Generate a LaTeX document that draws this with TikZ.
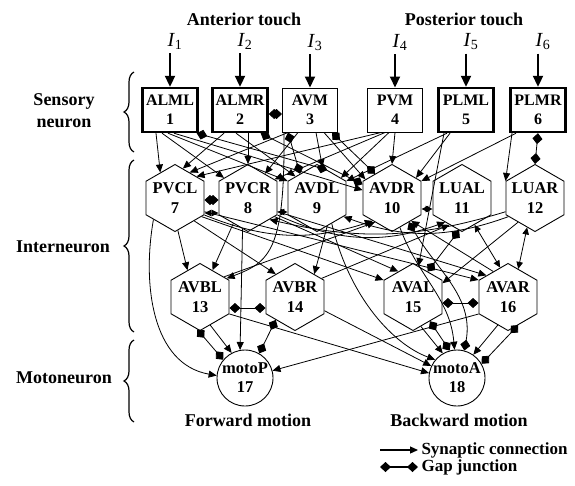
\documentclass[tikz,border=0pt]{standalone}
\usepackage{fontspec}
\setmainfont{Liberation Serif}
\usetikzlibrary{shapes.geometric,arrows.meta,calc,decorations.pathreplacing}

\tikzset{
  sensbox/.style={draw, rectangle, minimum width=55pt, minimum height=44pt, inner sep=1pt, align=center, line width=1pt, font=\bfseries\fontsize{16}{19}\selectfont},
  strong/.style={line width=2.4pt},
  hexnode/.style={draw, regular polygon, regular polygon sides=6, shape border rotate=30, minimum size=67pt, inner sep=0pt, line width=0.9pt, label={[align=center, font=\bfseries\fontsize{16.5}{20}\selectfont]center:#1}},
  motonode/.style={draw, circle, minimum size=56pt, inner sep=0pt, line width=0.9pt, label={[align=center, font=\bfseries\fontsize{16.5}{19}\selectfont]center:#1}},
  syn/.style={-{Triangle[length=8pt,width=7pt]}, line width=0.8pt},
  synboth/.style={{Triangle[length=7pt,width=6.5pt]}-{Triangle[length=7pt,width=6.5pt]}, line width=0.8pt},
  gap/.style={{Diamond[length=11pt,width=10pt]}-{Diamond[length=11pt,width=10pt]}, line width=0.8pt},
  inarrow/.style={-{Triangle[length=11pt,width=10pt]}, line width=2pt},
  inlbl/.style={font=\fontsize{20}{22}\selectfont},
  grouplbl/.style={font=\bfseries\fontsize{18}{22}\selectfont, align=center},
  legtext/.style={font=\bfseries\fontsize{17}{19}\selectfont, anchor=west},
  sidebrace/.style={decorate, decoration={brace, amplitude=10pt}, line width=1.2pt},
}

\begin{document}
\begin{tikzpicture}[x=1pt, y=-1pt]
    \useasboundingbox (0,0) rectangle (575,485);

    % Group labels
    \node[grouplbl] (ant) at (244,19) {Anterior touch};
    \node[grouplbl] (post) at (464,19) {Posterior touch};
    \node[grouplbl] (sens) at (64,111) {Sensory\\neuron};
    \node[grouplbl] (inter) at (63,247) {Interneuron};
    \node[grouplbl] (moto) at (64,378) {Motoneuron};
    \node[grouplbl] (fwd) at (248,420) {Forward motion};
    \node[grouplbl] (bwd) at (459,420) {Backward motion};

    % Braces
    \draw[sidebrace] (134,152) -- (134,72);
    \draw[sidebrace] (134,332) -- (134,160);
    \draw[sidebrace] (134,422) -- (134,340);

    % Sensory neurons
    \node[sensbox, strong] (alml) at (170,110) {ALML\\1};
    \node[sensbox, strong] (almr) at (240,110) {ALMR\\2};
    \node[sensbox] (avm) at (310,110) {AVM\\3};
    \node[sensbox] (pvm) at (395,110) {PVM\\4};
    \node[sensbox, strong] (plml) at (466,110) {PLML\\5};
    \node[sensbox, strong] (plmr) at (538,110) {PLMR\\6};

    % Touch inputs
    \foreach \s/\i in {alml/1, almr/2, avm/3, pvm/4, plml/5, plmr/6} {
        \node[inlbl] (in\i) at ([xshift=5pt,yshift=45pt]\s.north) {\textit{I}\textsubscript{\i}};
        \draw[inarrow] (\s.north |- in\i.south) -- (\s.north);
    }

    % Interneurons
    \node[hexnode={PVCL\\7}] (pvcl) at (175,198) {};
    \node[hexnode={PVCR\\8}] (pvcr) at (248,198) {};
    \node[hexnode={AVDL\\9}] (avdl) at (317,198) {};
    \node[hexnode={AVDR\\10}] (avdr) at (392,198) {};
    \node[hexnode={LUAL\\11}] (lual) at (462,198) {};
    \node[hexnode={LUAR\\12}] (luar) at (535,198) {};
    \node[hexnode={AVBL\\13}] (avbl) at (200,297) {};
    \node[hexnode={AVBR\\14}] (avbr) at (295,297) {};
    \node[hexnode={AVAL\\15}] (aval) at (413,297) {};
    \node[hexnode={AVAR\\16}] (avar) at (508,297) {};

    % Motoneurons
    \node[motonode={motoP\\17}] (motop) at (245,378) {};
    \node[motonode={motoA\\18}] (motoa) at (457,378) {};

    % Sensory -> interneuron
    \draw[syn] ([xshift=-14pt]alml.south) -- (pvcl.120);
    \draw[syn] ([xshift=-8pt]alml.south) -- (pvcr.140);
    \draw[syn] ([xshift=-2pt]alml.south) -- (avdl.150);
    \draw[syn] ([xshift=4pt]alml.south) -- (avdr.165);
    \draw[syn] ([xshift=8pt]almr.south) -- (pvcr.north);
    \draw[syn] ([xshift=-16pt]almr.south) -- (pvcl.75);
    \draw[syn] ([xshift=-4pt]almr.south) -- (avdl.135);
    \draw[syn] ([xshift=-22pt]avm.south) -- (pvcl.60);
    \draw[syn] ([xshift=-12pt]avm.south) -- (pvcr.55);
    \draw[syn] ([xshift=6pt]avm.south) -- (avdl.80);
    \draw[syn] ([xshift=14pt]avm.south) -- (avdr.145);
    \draw[syn] ([xshift=-26pt]avm.south) .. controls (285,250) and (270,262) .. (avbl.35);
    \draw[syn] (pvm.south) -- (avdr.north);
    \draw[syn] ([xshift=-6pt]pvm.south) -- (avdl.40);
    \draw[syn] ([xshift=-10pt]pvm.south) -- (pvcr.35);
    \draw[syn] ([xshift=-14pt]pvm.south) -- (pvcl.45);
    \draw[syn] ([xshift=-16pt]plml.south) -- (avdr.40);
    \draw[syn] ([xshift=-22pt]plml.south) -- (aval.80);
    \draw[syn] ([xshift=-19pt]plml.south) -- (avdl.30);
    \draw[syn] ([xshift=-22pt]plmr.south) -- (avdr.30);
    \draw[syn] ([xshift=-26pt]plmr.south) -- (luar.150);
    \draw[gap] (plmr.south) -- (luar.north);
    \draw[gap] ([yshift=-4pt]almr.east) -- ([yshift=-4pt]avm.west);
    \draw[gap] ([xshift=-2pt]alml.south east) -- (avdl.70);
    \draw[gap] ([xshift=-8pt]almr.south east) -- (avdr.155);
    \draw[gap] ([xshift=6pt]avm.south west) -- (avdl.125);
    \draw[gap] ([xshift=-6pt]avm.south east) -- (avdr.125);

    % Interneuron <-> interneuron
    \draw[gap] ([yshift=-2pt]pvcl.east) -- ([yshift=-2pt]pvcr.west);
    \draw[synboth] ([yshift=-15pt]pvcl.east) -- ([yshift=-15pt]pvcr.west);
    \draw[synboth] ([yshift=-14pt]pvcr.east) -- ([yshift=-14pt]avdl.west);
    \draw[synboth] ([yshift=-11pt]avdr.east) -- ([yshift=-11pt]lual.west);
    \draw[gap] ([yshift=-11pt]avbl.east) -- ([yshift=-11pt]avbr.west);
    \draw[gap] ([yshift=-6pt]aval.east) -- ([yshift=-6pt]avar.west);
    \draw[syn] (pvcl.-85) -- (avbl.115);
    \draw[syn] (pvcr.-120) -- (avbl.65);
    \draw[syn] (pvcl.-50) -- (avbr.130);
    \draw[syn] (avdl.-70) -- (avbr.50);
    \draw[syn] (pvcl.-35) -- (aval.150);
    \draw[syn] (pvcl.-25) -- (avar.150);
    \draw[syn] (pvcr.-35) -- (aval.120);
    \draw[syn] (pvcr.-25) -- (avar.135);
    \draw[syn] (pvcl.-30) to[bend right=20] (avdr.-130);
    \draw[syn] (pvcr.-30) to[bend right=22] (lual.-125);
    \draw[syn] (luar.-145) to[bend left=20] (avdl.-35);
    \draw[syn] (luar.-155) to[bend left=15] (pvcr.-45);
    \draw[syn] (avbl.40) -- (avdr.-125);
    \draw[syn] (avbr.35) -- (lual.-115);
    \draw[syn] (avar.120) -- (avdr.-50);
    \draw[synboth] (lual.-65) -- (avar.105);
    \draw[synboth] (luar.-105) -- (avar.70);
    \draw[syn] (luar.-125) -- (aval.25);
    \draw[gap] (lual.-95) -- (aval.60);

    % Interneuron -> motoneuron
    \draw[syn] (pvcr.-100) -- (motop.100);
    \draw[syn] (pvcl.-135) to[out=-100,in=170] (motop.175);
    \draw[gap] (avbl.-95) -- (motop.140);
    \draw[syn] (avbl.-70) -- (motop.118);
    \draw[gap] (avbr.-130) -- (motop.60);
    \draw[syn] (avar.-150) -- (motop.15);
    \draw[syn] (avbl.-30) -- (motoa.170);
    \draw[syn] (avbr.-25) -- (motoa.155);
    \draw[syn] (avdl.-60) .. controls (350,300) and (395,345) .. (motoa.140);
    \draw[gap] (avdr.-55) to[out=-60,in=80] (motoa.75);
    \draw[syn] (avdr.-75) to[out=-70,in=95] (motoa.95);
    \draw[gap] (aval.-55) -- (motoa.105);
    \draw[syn] (aval.-75) -- (motoa.120);
    \draw[gap] (avar.-70) -- (motoa.30);
    \draw[syn] (avar.-110) -- (motoa.55);

    % Legend
    \coordinate (synA) at (380,450);
    \node[legtext] (syntxt) at (418,450) {Synaptic connection};
    \draw[syn, line width=1.2pt] (synA) -- (syntxt.west);
    \coordinate (gapA) at (380,467);
    \node[legtext] (gaptxt) at (418,467) {Gap junction};
    \draw[gap, line width=1.2pt] (gapA) -- (gaptxt.west);
\end{tikzpicture}
\end{document}
